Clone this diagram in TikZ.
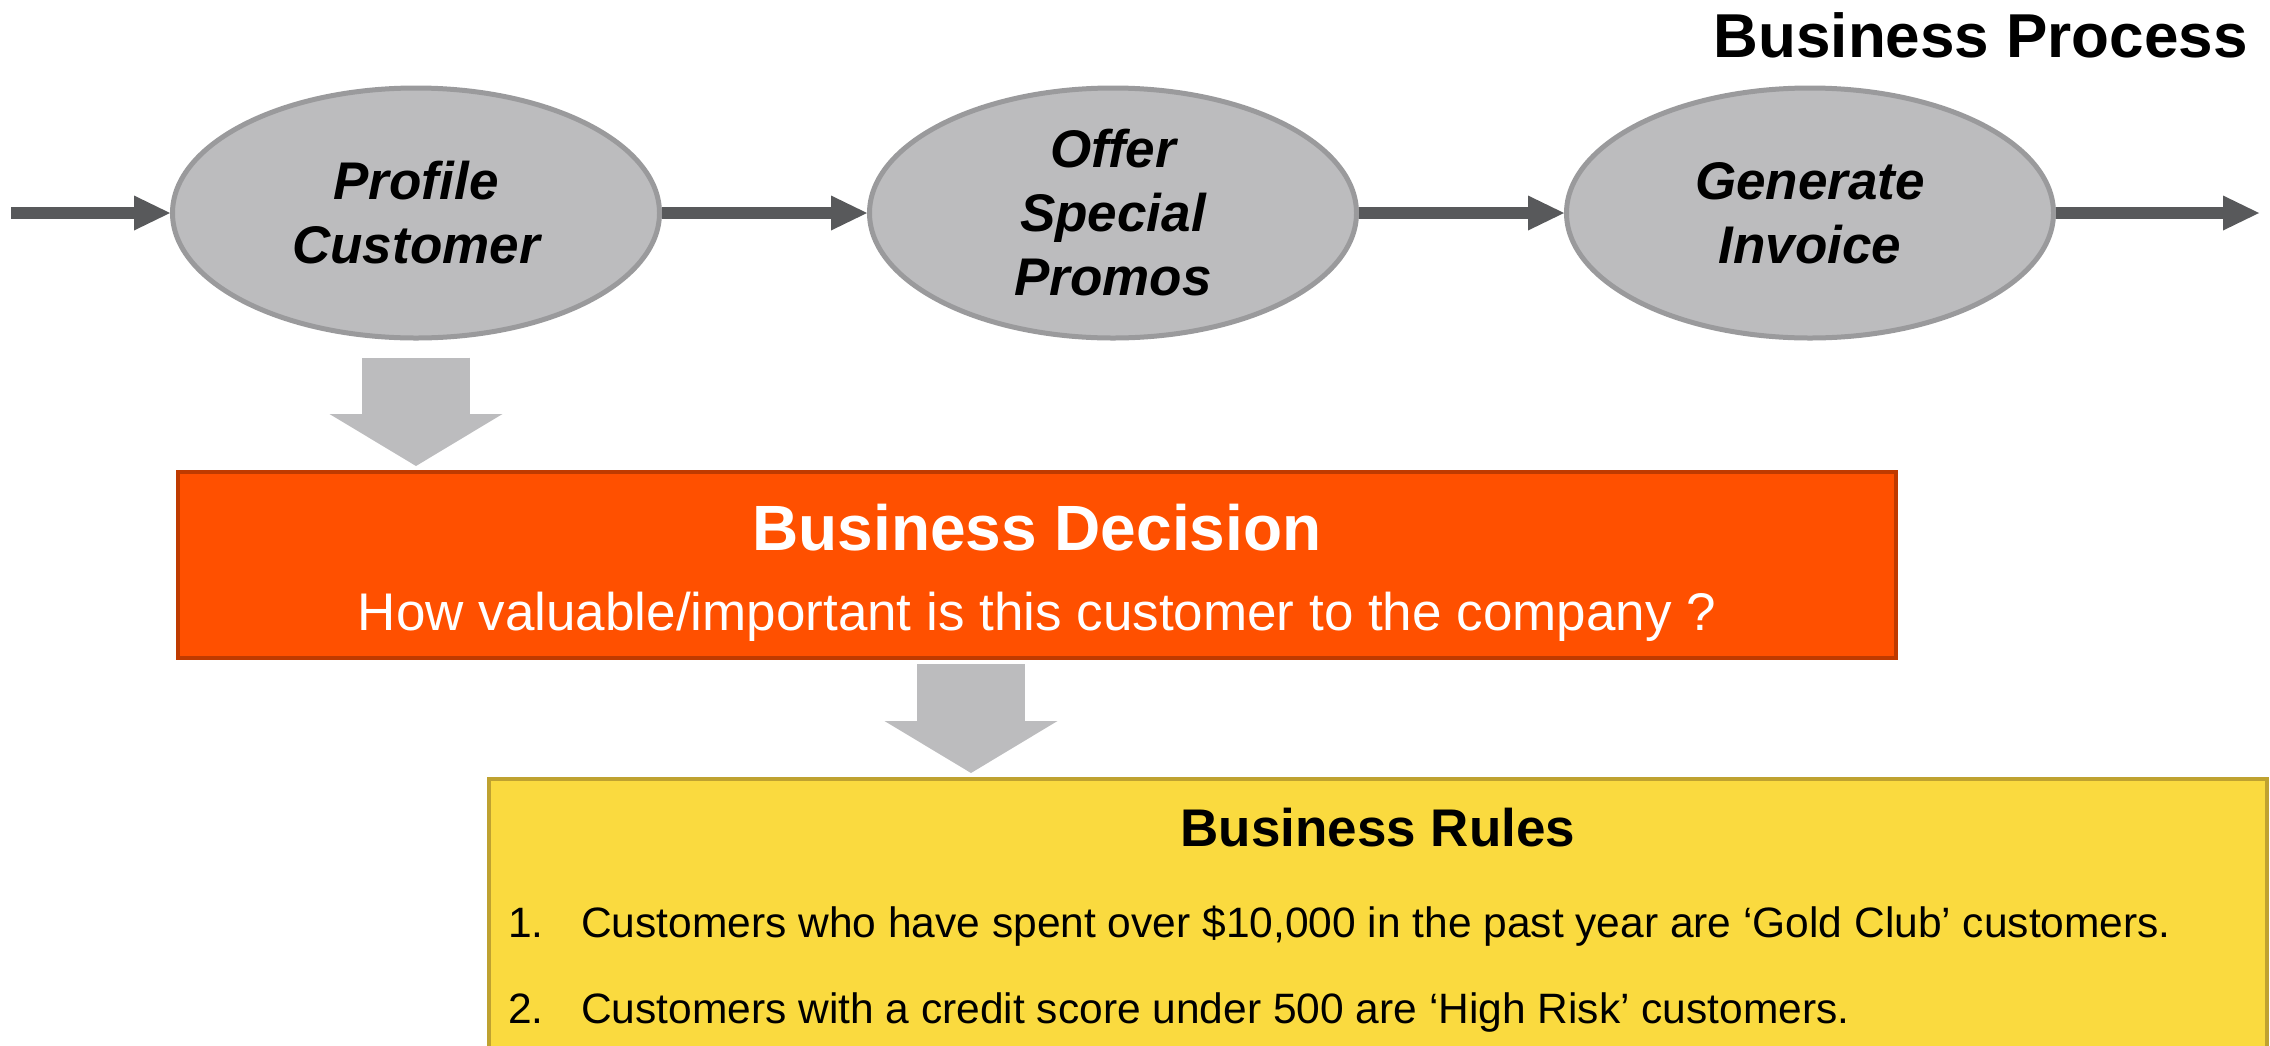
\documentclass[tikz,border=0pt]{standalone}
\usepackage{fontspec}
\setmainfont{Liberation Sans}
\usetikzlibrary{shapes.geometric,arrows.meta}

\definecolor{taskfill}{HTML}{BCBCBE}
\definecolor{taskedge}{HTML}{9A9A9C}
\definecolor{flowgray}{HTML}{58595B}
\definecolor{decisionfill}{HTML}{FF5000}
\definecolor{decisionedge}{HTML}{BF3A00}
\definecolor{rulesfill}{HTML}{FADA3F}
\definecolor{rulesedge}{HTML}{BFA230}

\begin{document}
\begin{tikzpicture}[x=1pt,y=-1pt,
        task/.style={ellipse,draw=taskedge,fill=taskfill,line width=5pt,minimum width=487pt,minimum height=250pt,inner sep=0pt,align=center,font=\fontsize{53}{64}\selectfont\bfseries\itshape},
        flow/.style={color=flowgray,line width=12pt,-{Triangle[length=36pt,width=35pt,line width=0pt]}},
        drop/.style={color=taskfill,line width=108pt,-{Triangle[length=52pt,width=173pt,line width=0pt]}},
        textline/.style={inner sep=0pt,font=\fontsize{42.5}{51}\selectfont}]
        \useasboundingbox (0,0) rectangle (2270,1045);

        \node[inner sep=0pt,anchor=base east,font=\fontsize{62}{74}\selectfont\bfseries] (process) at (2248,57) {Business Process};

        \node[task] (profile) at (416,213) {Profile\\Customer};
        \node[task] (offer) at (1113,213) {Offer\\Special\\Promos};
        \node[task] (invoice) at (1810,213) {Generate\\Invoice};

        \coordinate (start) at (11,213);
        \coordinate (finish) at (2259,213);

        \draw[flow] (start) -- (profile.west);
        \draw[flow] (profile.east) -- (offer.west);
        \draw[flow] (offer.east) -- (invoice.west);
        \draw[flow] (invoice.east) -- (finish);

        \node[draw=decisionedge,fill=decisionfill,line width=4pt,minimum width=1718pt,minimum height=186pt] (decision) at (1037,565) {};
        \node[inner sep=0pt,anchor=base,white,font=\fontsize{64}{77}\selectfont\bfseries] (decisiontitle) at (1037,550) {Business Decision};
        \node[inner sep=0pt,anchor=base,white,font=\fontsize{53}{64}\selectfont] (question) at (1037,630) {How valuable/important is this customer to the company ?};

        \node[draw=rulesedge,fill=rulesfill,line width=4pt,minimum width=1778pt,minimum height=301pt] (rules) at (1378,929.5) {};
        \node[inner sep=0pt,anchor=base,font=\fontsize{53}{64}\selectfont\bfseries] (rulestitle) at (1378,846) {Business Rules};

        \node[textline,anchor=base west] (num1) at (508,937) {1.};
        \node[textline,anchor=base west] (rule1) at (581,937) {Customers who have spent over \$10,000 in the past year are ‘Gold Club’ customers.};
        \node[textline,anchor=base west] (num2) at (508,1023) {2.};
        \node[textline,anchor=base west] (rule2) at (581,1023) {Customers with a credit score under 500 are ‘High Risk’ customers.};

        \draw[drop,shorten <=17pt,shorten >=4pt] (profile.south) -- (profile.south |- decision.north);
        \draw[drop,shorten <=4pt,shorten >=4pt] ([xshift=-66pt]decision.south) -- ([xshift=-66pt]decision.south |- rules.north);

    \end{tikzpicture}
\end{document}
